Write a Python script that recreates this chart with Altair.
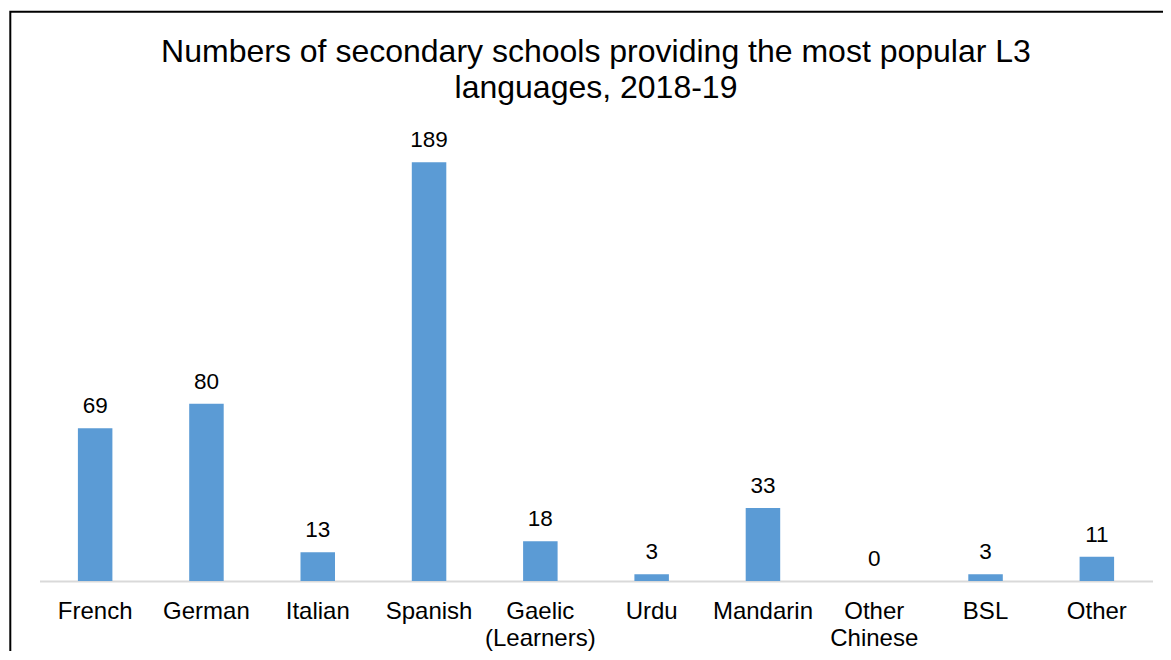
import altair as alt
import pandas as pd

languages = ["French", "German", "Italian", "Spanish", "Gaelic (Learners)",
             "Urdu", "Mandarin", "Other Chinese", "BSL", "Other"]
schools = [69, 80, 13, 189, 18, 3, 33, 0, 3, 11]

df = pd.DataFrame({"language": languages, "schools": schools})

FONT = "Liberation Sans"

x = alt.X("language:N", sort=languages, title=None,
          scale=alt.Scale(paddingInner=0.69, paddingOuter=0.345),
          axis=alt.Axis(labelAngle=0, labelExpr="split(datum.label, ' ')",
                        labelFontSize=24, labelLineHeight=27, labelColor="black",
                        labelFont=FONT, labelPadding=18, ticks=False,
                        domainColor="#d9d9d9", domainWidth=2, grid=False))
y = alt.Y("schools:Q", title=None, scale=alt.Scale(domain=[0, 200], nice=False),
          axis=None)

base = alt.Chart(df)
bars = base.mark_bar(color="#5B9BD5").encode(x=x, y=y)
labels = base.mark_text(baseline="alphabetic", dy=-15, fontSize=22.5, font=FONT,
                        color="black").encode(x=x, y=y, text="schools:Q")

border = alt.Chart(alt.Data(values=[{"a": 1}])).mark_rect(
    fill=None, stroke="black", strokeWidth=2, fillOpacity=0
).encode(x=alt.value(-29.2), x2=alt.value(1300), y=alt.value(-126.2), y2=alt.value(700))

chart = alt.layer(border, bars, labels).properties(
    width=1113, height=443,
    background="white",
    title=alt.TitleParams(
        ["Numbers of secondary schools providing the most popular L3",
         "languages, 2018-19"],
        fontSize=32, font=FONT, fontWeight="normal", color="black",
        lineHeight=36, anchor="middle", offset=-94),
    autosize=alt.AutoSizeParams(type="none"),
    padding={"left": 31.5, "top": 130, "right": 10, "bottom": 70},
).configure_view(stroke=None)

chart.save("out.html", embed_options={"renderer": "svg", "actions": False})
